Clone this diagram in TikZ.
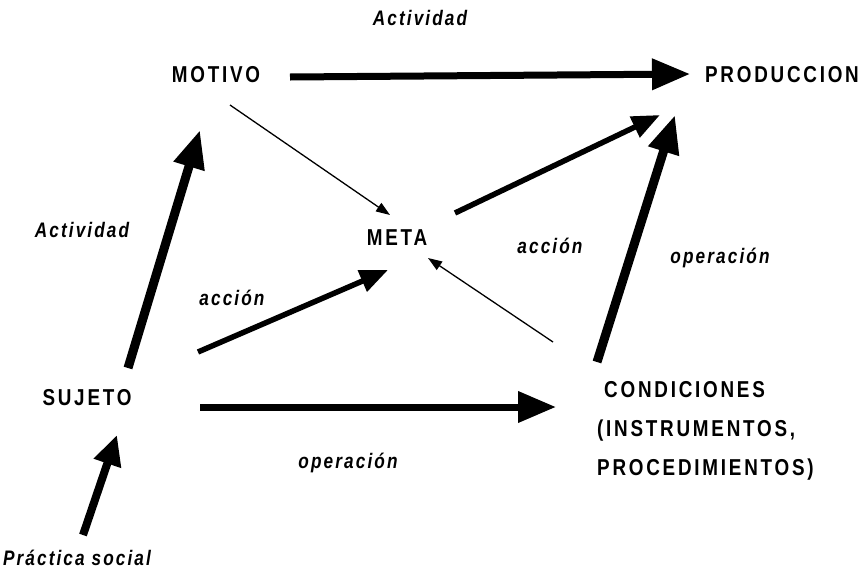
\documentclass[tikz,border=0pt]{standalone}
\usepackage{fontspec}
\setmainfont{Liberation Sans}[FakeStretch=0.82]
\usetikzlibrary{arrows.meta}
\tikzset{
  concept/.style={font=\fontsize{23}{39}\selectfont\bfseries\addfontfeatures{LetterSpace=12}, inner sep=0pt},
  lbl/.style={font=\fontsize{21}{24}\selectfont\bfseries\itshape\addfontfeatures{LetterSpace=10}, inner sep=0pt},
  heavy/.style={line width=9pt, -{Triangle[length=38pt,width=30pt]}},
  medium/.style={line width=5.5pt, -{Triangle[length=28pt,width=22pt]}},
  thin/.style={line width=1.3pt, -{Triangle[length=14pt,width=10pt]}},
}
\begin{document}
\begin{tikzpicture}[x=1pt,y=-1pt]
\useasboundingbox (0,0) rectangle (860,571);
% concept nodes
\node[concept] (motivo) at (216,75) {MOTIVO};
\node[concept] (produccion) at (782,75) {PRODUCCION};
\node[concept] (meta) at (397,238) {META};
\node[concept] (sujeto) at (87,398) {SUJETO};
\node[concept, align=left, anchor=west] (condiciones) at (597,431) {\hspace*{7pt}CONDICIONES\\(INSTRUMENTOS,\\PROCEDIMIENTOS)};
% labels
\node[lbl] (acttop) at (420,18) {Actividad};
\node[lbl] (actleft) at (82,230) {Actividad};
\node[lbl] (accion1) at (232,298) {acción};
\node[lbl] (accion2) at (550,246) {acción};
\node[lbl] (oper1) at (348,463) {operación};
\node[lbl] (oper2) at (720,258) {operación};
\node[lbl] (practica) at (77,558) {Práctica social};
% connectors
\draw[heavy, line width=7pt] ([shift={(74,2)}]motivo.center) -- ([shift={(-92,-1)}]produccion.center);
\draw[thin] ([shift={(14,30)}]motivo.center) -- ([shift={(-7,-23)}]meta.center);
\draw[heavy] ([shift={(41,-30)}]sujeto.center) -- ([shift={(-16,55)}]motivo.center);
\draw[medium] ([shift={(111,-46)}]sujeto.center) -- ([shift={(-9,32)}]meta.center);
\draw[heavy, line width=7pt] ([shift={(113,9)}]sujeto.center) -- ([shift={(-41,-24)}]condiciones.west);
\draw[heavy, line width=8pt, -{Triangle[length=30pt,width=27pt]}] ([shift={(6,-23)}]practica.center) -- ([shift={(30,37)}]sujeto.center);
\draw[medium] ([shift={(58,-25)}]meta.center) -- ([shift={(-122,40)}]produccion.center);
\draw[thin] ([shift={(-44,-89)}]condiciones.west) -- ([shift={(31,20)}]meta.center);
\draw[heavy] ([shift={(0,-69)}]condiciones.west) -- ([shift={(-107,40)}]produccion.center);
\end{tikzpicture}
\end{document}
